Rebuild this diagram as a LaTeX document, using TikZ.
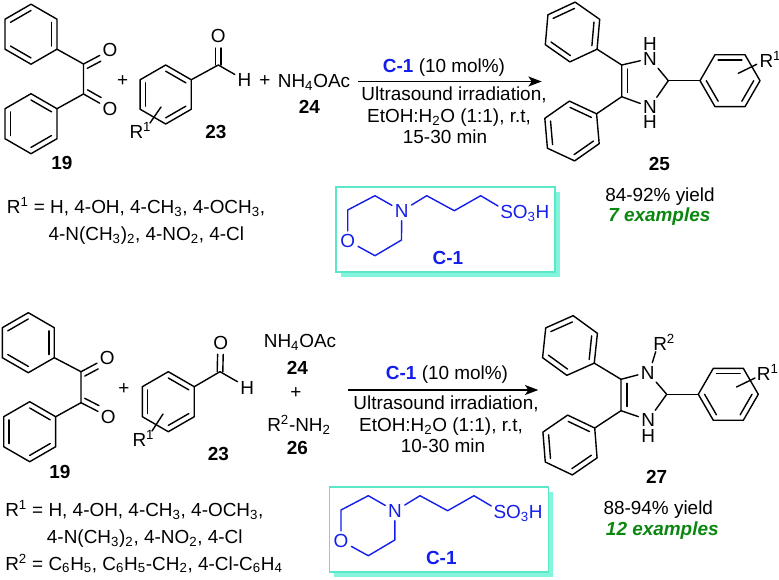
\documentclass[tikz,border=0pt]{standalone}
\usepackage{fontspec}
\setmainfont{Liberation Sans}
\usetikzlibrary{calc,arrows.meta}
\definecolor{catblue}{RGB}{20,30,235}
\definecolor{boxedge}{RGB}{90,232,200}
\definecolor{boxshade}{RGB}{130,245,220}
\definecolor{exgreen}{RGB}{10,135,15}
\newcommand{\tsub}[1]{\textsubscript{#1}}
\newcommand{\tsup}[1]{\textsuperscript{#1}}
\tikzset{
  bond/.style={line width=1.05pt,line join=round,line cap=round},
  txt/.style={font=\fontsize{14.2}{17}\selectfont,inner sep=0pt,text height=10.2pt,text depth=0pt},
  atom/.style={txt,inner sep=2pt},
  num/.style={txt,font=\fontsize{14.2}{17}\selectfont\bfseries},
  ex/.style={txt,font=\fontsize{14.2}{17}\selectfont\bfseries\itshape,text=exgreen},
  catatom/.style={atom,text=catblue},
  catbond/.style={bond,draw=catblue},
  rxn/.style={line width=1pt,-{Stealth[length=10pt,width=7.5pt,inset=2.5pt]}}
}
% name, cx, cy, R, start angle (screen clockwise), edges with an inner line
\newcommand{\ringat}[6]{%
  \coordinate (#1c) at (#2,#3);
  \foreach \k in {0,...,5}{\coordinate (#1v\k) at ($(#1c)+({#5+60*\k}:#4)$);}
  \draw[bond] (#1v0)--(#1v1)--(#1v2)--(#1v3)--(#1v4)--(#1v5)--cycle;
  \foreach \e in {#6}{%
    \draw[bond] ($(#1c)+({#5+60*\e}:{#4*0.79})$)--($(#1c)+({#5+60*\e+60}:{#4*0.79})$);}
}
% carbonyl whose second line lies on the inner side of the pair: carbon, oxygen, side sign
\newcommand{\sideline}[3]{%
  \draw[bond] (#1)--(#2);
  \draw[bond,shorten >=10pt,shorten <=1pt] ($(#1)!4.2pt!#3:(#2)$)--($(#2)!4.2pt!-#3:(#1)$);}
% carbonyl with two equal lines round the axis carbon-oxygen
\newcommand{\symdouble}[2]{%
  \draw[bond,shorten >=9pt] ($(#1)!2.1pt!90:(#2)$)--($(#2)!2.1pt!-90:(#1)$);
  \draw[bond,shorten >=9pt] ($(#1)!2.1pt!-90:(#2)$)--($(#2)!2.1pt!90:(#1)$);}
% catalyst panel
\newcommand{\catpanel}[3]{%
  \begin{scope}[shift={(#2,#3)}]
    \fill[boxshade] (341,191.5) rectangle (560,276.5);
    \draw[boxedge,fill=white,line width=1.2pt] (336,186.7) rectangle (555,271.7);
    \node[catatom] (#1O) at (347.7,240.7) {O};
    \node[catatom] (#1N) at (401.7,211) {N};
    \coordinate (#1a) at (347.7,210);
    \coordinate (#1b) at (375,195.7);
    \coordinate (#1c) at (401.5,240);
    \coordinate (#1d) at (375,255.7);
    \coordinate (#1e) at (426.7,195.7);
    \coordinate (#1f) at (454.3,210.7);
    \coordinate (#1g) at (480.7,195.7);
    \coordinate (#1h) at (498,206);
    \draw[catbond] (#1O)--(#1a)--(#1b)--(#1N)--(#1c)--(#1d)--(#1O);
    \draw[catbond] (#1N)--(#1e)--(#1f)--(#1g)--(#1h);
    \node[txt,anchor=west,text=catblue] (#1S) at (500,211.7) {SO\tsub{3}H};
    \node[num,text=catblue] (#1L) at (448,258) {C-1};
  \end{scope}
}
\begin{document}
\begin{tikzpicture}[x=0.75pt,y=-0.75pt]
\useasboundingbox (0,0) rectangle (779,579);
\fill[white] (0,0) rectangle (779,579);
%%% ---------- top reaction
\ringat{a}{31}{34.2}{30}{-90}{5,1,3}
\ringat{b}{31}{123.7}{30}{-90}{0,4,2}
\coordinate (ac) at (83.5,64);
\coordinate (bc) at (83.5,94);
\node[atom] (aO) at (110,50) {O};
\node[atom] (bO) at (110,109) {O};
\draw[bond] (av2)--(ac)--(bc)--(bv1);
\sideline{ac}{aO}{-90}
\sideline{bc}{bO}{90}
\node[txt] (p1) at (122.7,80) {+};
\ringat{c}{165.7}{94.5}{29.5}{-90}{0,4,2}
\coordinate (cc) at (218.3,65);
\node[atom] (cO) at (218.3,36) {O};
\node[atom] (cH) at (244.5,80) {H};
\draw[bond] (cv1)--(cc)--(cH);
\symdouble{cc}{cO}
\node[txt,anchor=west] (cR) at (129.3,132) {R\tsup{1}};
\coordinate (cs1) at (161,107);
\coordinate (cs2) at (150,123);
\draw[bond] (cs1)--(cs2);
\node[num] (n19a) at (62,162.7) {19};
\node[num] (n23a) at (216,132) {23};
\node[txt] (p2) at (265,80) {+};
\node[txt] (am1) at (314,81) {NH\tsub{4}OAc};
\node[num] (n24a) at (309.5,107) {24};
\coordinate (ar1s) at (358,81.5);
\coordinate (ar1e) at (541.7,81.5);
\draw[rxn] (ar1s)--(ar1e);
\node[txt] (t1a) at (444,66) {\textcolor{catblue}{\bfseries C-1} (10 mol\%)};
\node[txt] (t1b) at (454,94) {Ultrasound irradiation,};
\node[txt] (t1c) at (449,116) {EtOH:H\tsub{2}O (1:1), r.t,};
\node[txt] (t1d) at (445,136.7) {15-30 min};
\node[txt,anchor=west] (l1a) at (6.7,206.7) {R\tsup{1} = H, 4-OH, 4-CH\tsub{3}, 4-OCH\tsub{3},};
\node[txt,anchor=west] (l1b) at (48.3,234) {4-N(CH\tsub{3})\tsub{2}, 4-NO\tsub{2}, 4-Cl};
\catpanel{k}{0}{0}
% product 25
\ringat{d}{572.5}{32}{30}{-85}{5,1,3}
\ringat{e}{572}{131}{30}{-95}{0,4,2}
\ringat{f}{730}{80.7}{30}{0}{4,2,0}
\coordinate (c4) at (621.7,65);
\coordinate (c5) at (621.7,96.7);
\coordinate (c2) at (668.3,80.7);
\coordinate (c4i) at (627.6,69);
\coordinate (c5i) at (627.6,92.5);
\node[atom] (n1) at (650,58.5) {N};
\node[txt] (h1) at (650,43.5) {H};
\node[atom] (n3) at (650,107) {N};
\node[txt] (h3) at (650,122) {H};
\draw[bond] (dv2)--(c4)--(c5)--(ev1);
\draw[bond] (c4i)--(c5i);
\draw[bond] (c4)--(n1)--(c2)--(n3)--(c5);
\draw[bond] (c2)--(fv3);
\node[txt,anchor=west] (fR) at (759.3,60.7) {R\tsup{1}};
\coordinate (fs1) at (738.3,73.3);
\coordinate (fs2) at (756.7,64.3);
\draw[bond] (fs1)--(fs2);
\node[num] (n25) at (659.3,164) {25};
\node[txt] (y25) at (660,194.3) {84-92\% yield};
\node[ex] (x25) at (659.3,215) {7 examples};
%%% ---------- bottom reaction
\ringat{g}{28.3}{342.7}{30}{-90}{5,1,3}
\ringat{h}{29.7}{431.7}{30}{-90}{0,4,2}
\coordinate (gc) at (81,371.7);
\coordinate (hc) at (81,402.7);
\node[atom] (gO) at (107.3,357.7) {O};
\node[atom] (hO) at (108.3,416.7) {O};
\draw[bond] (gv2)--(gc)--(hc)--(hv1);
\sideline{gc}{gO}{-90}
\sideline{hc}{hO}{90}
\node[txt] (p3) at (124,387.3) {+};
\ringat{i}{168.3}{401.7}{30}{-90}{0,4,2}
\coordinate (ic) at (220,371.7);
\node[atom] (iO) at (220.7,342.3) {O};
\node[atom] (iH) at (247.3,387.3) {H};
\draw[bond] (iv1)--(ic)--(iH);
\symdouble{ic}{iO}
\node[txt,anchor=west] (iR) at (132.3,440) {R\tsup{1}};
\coordinate (is1) at (163,414);
\coordinate (is2) at (152,431);
\draw[bond] (is1)--(is2);
\node[num] (n19b) at (60,471.7) {19};
\node[num] (n23b) at (218.3,453.3) {23};
\node[txt] (am2) at (300,340.7) {NH\tsub{4}OAc};
\node[num] (n24b) at (297.3,367.3) {24};
\node[txt] (p4) at (296,391.7) {+};
\node[txt] (rn) at (299,425) {R\tsup{2}-NH\tsub{2}};
\node[num] (n26) at (297.3,447.3) {26};
\coordinate (ar2s) at (348.3,390);
\coordinate (ar2e) at (538.3,390);
\draw[rxn] (ar2s)--(ar2e);
\node[txt] (t2a) at (447,372.7) {\textcolor{catblue}{\bfseries C-1} (10 mol\%)};
\node[txt] (t2b) at (446,403) {Ultrasound irradiation,};
\node[txt] (t2c) at (441,425) {EtOH:H\tsub{2}O (1:1), r.t,};
\node[txt] (t2d) at (443,446) {10-30 min};
\node[txt,anchor=west] (l2a) at (5,510) {R\tsup{1} = H, 4-OH, 4-CH\tsub{3}, 4-OCH\tsub{3},};
\node[txt,anchor=west] (l2b) at (46.7,536.7) {4-N(CH\tsub{3})\tsub{2}, 4-NO\tsub{2}, 4-Cl};
\node[txt,anchor=west] (l2c) at (5,563.3) {R\tsup{2} = C\tsub{6}H\tsub{5}, C\tsub{6}H\tsub{5}-CH\tsub{2}, 4-Cl-C\tsub{6}H\tsub{4}};
\catpanel{m}{-6.7}{300}
% product 27
\ringat{r}{570}{345.5}{30}{-84}{5,1,3}
\ringat{s}{570}{445}{30}{-94.5}{0,4,2}
\ringat{t}{728.3}{394.3}{30}{0}{4,2,0}
\coordinate (d4) at (621,379.3);
\coordinate (d5) at (621,410.7);
\coordinate (d2) at (666.7,394.3);
\coordinate (d4i) at (627,383.3);
\coordinate (d5i) at (627,406.5);
\node[atom] (m1) at (647.7,372.3) {N};
\node[atom] (m3) at (648.3,420) {N};
\node[txt] (mh) at (648.3,435.7) {H};
\node[txt,anchor=west,inner sep=1pt] (mR) at (651.7,343.3) {R\tsup{2}};
\coordinate (mb1) at (652.3,362.7);
\coordinate (mb2) at (655.7,351.7);
\draw[bond] (mb1)--(mb2);
\draw[bond] (rv2)--(d4)--(d5)--(sv1);
\draw[bond] (d4i)--(d5i);
\draw[bond] (d4)--(m1)--(d2)--(m3)--(d5);
\draw[bond] (d2)--(tv3);
\node[txt,anchor=west] (tR) at (756.7,373.3) {R\tsup{1}};
\coordinate (ts1) at (736.5,387);
\coordinate (ts2) at (755,378);
\draw[bond] (ts1)--(ts2);
\node[num] (n27) at (656.7,476.7) {27};
\node[txt] (y27) at (658.3,507.3) {88-94\% yield};
\node[ex] (x27) at (662.3,529) {12 examples};
\end{tikzpicture}
\end{document}
